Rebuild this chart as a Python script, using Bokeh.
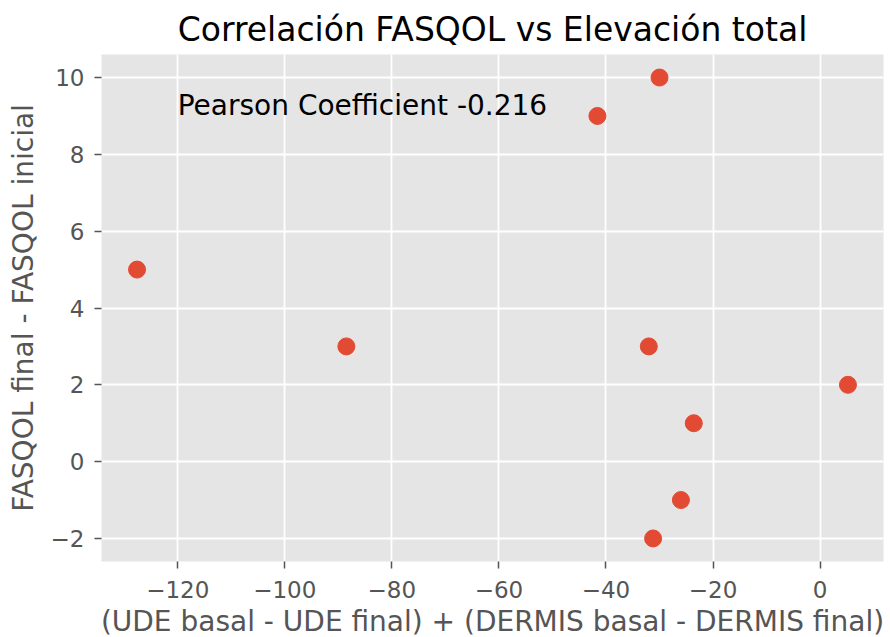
from bokeh.plotting import figure
from bokeh.models import FixedTicker, Range1d
from bokeh.core.properties import value
from bokeh.embed import file_html
from bokeh.resources import INLINE

# Data
elevacion_total = [-127.6, -88.5, -41.6, -30.0, -32.0, 5.2, -23.6, -26.0, -31.2]
fasqol_delta = [5, 3, 9, 10, 3, 2, 1, -1, -2]
x_ticks = [-120, -100, -80, -60, -40, -20, 0]
y_ticks = [-2, 0, 2, 4, 6, 8, 10]
pearson_text = "Pearson Coefficient -0.216"
pearson_pos = (-120, 9)

title = "Correlación FASQOL vs Elevación total"
x_label = "(UDE basal - UDE final) + (DERMIS basal - DERMIS final)"
y_label = "FASQOL final - FASQOL inicial"

FONT = "DejaVu Sans"
GRAY = "#555555"

xr = max(elevacion_total) - min(elevacion_total)
yr = max(fasqol_delta) - min(fasqol_delta)

p = figure(width=886, height=640, output_backend="svg", toolbar_location=None,
           x_range=Range1d(min(elevacion_total) - 0.05 * xr, max(elevacion_total) + 0.05 * xr),
           y_range=Range1d(min(fasqol_delta) - 0.05 * yr, max(fasqol_delta) + 0.05 * yr),
           min_border_left=101, min_border_right=3, min_border_top=54, min_border_bottom=79)

p.title.text = title
p.title.align = "center"
p.title.text_font = FONT
p.title.text_font_size = "33px"
p.title.text_font_style = "normal"
p.title.text_color = "black"
p.title.standoff = 11

p.background_fill_color = "#E5E5E5"
p.border_fill_color = "white"
p.outline_line_color = None

for ax in (p.xaxis[0], p.yaxis[0]):
    ax.axis_line_color = None
    ax.major_tick_line_color = GRAY
    ax.major_tick_line_width = 1.5
    ax.major_tick_out = 7
    ax.major_tick_in = 0
    ax.minor_tick_line_color = None
    ax.major_label_text_font = FONT
    ax.major_label_text_font_size = "23px"
    ax.major_label_text_color = GRAY
    ax.axis_label_text_font = FONT
    ax.axis_label_text_font_size = "28px"
    ax.axis_label_text_font_style = "normal"
    ax.axis_label_text_color = GRAY

p.xaxis.ticker = FixedTicker(ticks=x_ticks)
p.yaxis.ticker = FixedTicker(ticks=y_ticks)
p.xaxis.major_label_overrides = {t: str(t).replace("-", "\u2212") for t in x_ticks}
p.yaxis.major_label_overrides = {t: str(t).replace("-", "\u2212") for t in y_ticks}
p.xaxis.axis_label = x_label
p.yaxis.axis_label = y_label
p.xaxis.major_label_standoff = 12
p.xaxis.axis_label_standoff = 4
p.yaxis.major_label_standoff = 10
p.yaxis.axis_label_standoff = 8

p.grid.grid_line_color = "white"
p.grid.grid_line_width = 1.8
p.xgrid.ticker = FixedTicker(ticks=x_ticks)
p.ygrid.ticker = FixedTicker(ticks=y_ticks)

p.scatter(elevacion_total, fasqol_delta, size=17, color="#E24A33", line_color="#E24A33")

p.text(x=[pearson_pos[0]], y=[pearson_pos[1]], text=[pearson_text],
       text_font=value(FONT), text_font_size="28px", text_color="black",
       text_baseline="alphabetic", text_align="left", y_offset=-10)

open("out.html", "w").write(file_html(p, INLINE))
